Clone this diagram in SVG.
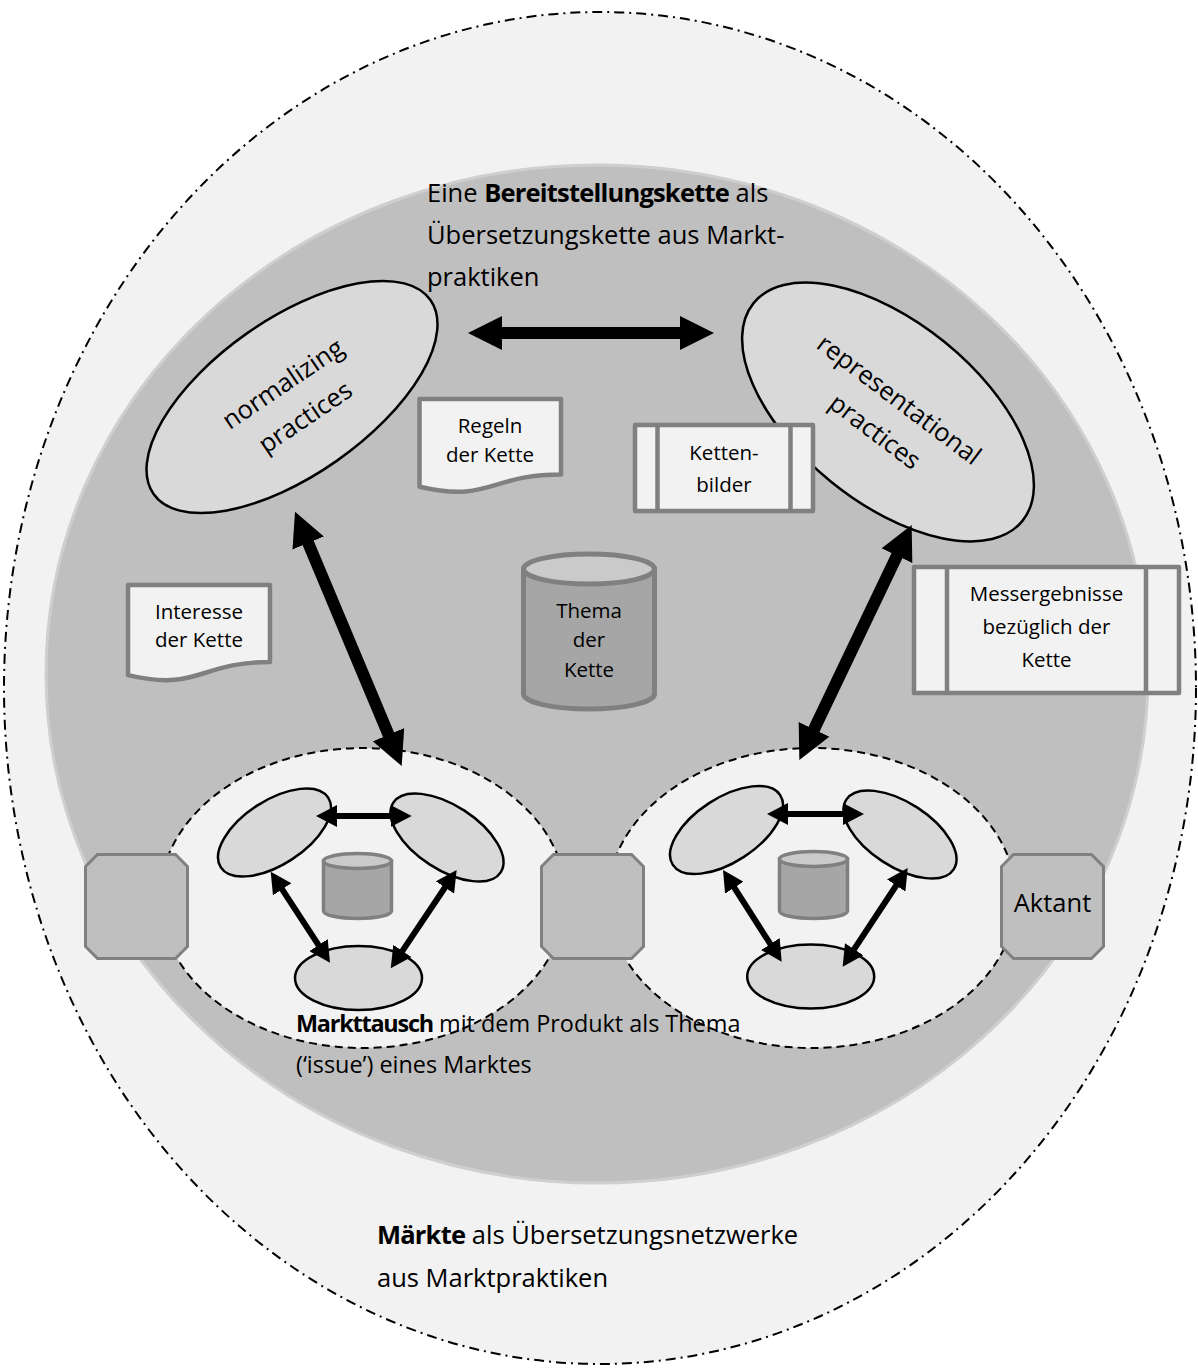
<svg xmlns="http://www.w3.org/2000/svg" width="1198" height="1369" viewBox="0 0 1198 1369">
<style>
.t{font-family:"Open Sans","Liberation Sans",sans-serif;fill:#000}
.main{font-size:25.5px}
.mid{font-size:23.4px}
.small{font-size:20.5px}
.b{font-weight:bold;letter-spacing:-0.8px}
.b2{font-weight:bold;letter-spacing:-1.2px}
.doc{fill:#f2f2f2;stroke:#808080;stroke-width:4.5;stroke-linejoin:round}
.bar{fill:none;stroke:#808080;stroke-width:4.5}
.prac{fill:#d9d9d9;stroke:#000;stroke-width:2.5}
.oct{fill:#bfbfbf;stroke:#808080;stroke-width:3}
.cylb{fill:#a6a6a6;stroke:#808080}
.cylt{fill:#cacaca;stroke:#808080}
.market{fill:#f2f2f2;stroke:#000;stroke-width:2;stroke-dasharray:8 5}
.big{fill:none;stroke:#000;stroke-width:12;marker-start:url(#hb);marker-end:url(#hb)}
.sm{fill:none;stroke:#000;stroke-width:6;marker-start:url(#hs);marker-end:url(#hs)}
</style>
<defs>
<marker id="hb" viewBox="0 0 34 34" refX="10" refY="17" markerWidth="34" markerHeight="34" markerUnits="userSpaceOnUse" orient="auto-start-reverse"><path d="M0,0 L34,17 L0,34 Z" fill="#000"/></marker>
<marker id="hs" viewBox="0 0 21 22" refX="6" refY="11" markerWidth="21" markerHeight="22" markerUnits="userSpaceOnUse" orient="auto-start-reverse"><path d="M0,0 L21,11 L0,22 Z" fill="#000"/></marker>
</defs>

<g id="maerkte">
<ellipse cx="600" cy="688" rx="596" ry="676" fill="#f2f2f2" stroke="#000" stroke-width="2" stroke-dasharray="10 5 2 5"/>
<text class="t main" x="377" y="1244"><tspan class="b">Märkte</tspan> als Übersetzungsnetzwerke</text>
<text class="t main" x="377" y="1287">aus Marktpraktiken</text>
</g>

<g id="bereitstellungskette">
<ellipse cx="597" cy="674" rx="551" ry="509" fill="#bfbfbf" stroke="#cfcfcf" stroke-width="3"/>
<text class="t main" x="427" y="202">Eine <tspan class="b">Bereitstellungskette</tspan> als</text>
<text class="t main" x="427" y="244">Übersetzungskette aus Markt-</text>
<text class="t main" x="427" y="286">praktiken</text>
</g>

<g id="markt-links">
<ellipse class="market" cx="363" cy="898" rx="203" ry="150"/>
</g>
<g id="markt-rechts">
<ellipse class="market" cx="812" cy="898" rx="204" ry="150"/>
</g>

<g id="aktant-links"><polygon class="oct" points="97.5,854.5 175.5,854.5 187.5,866.5 187.5,946.5 175.5,958.5 97.5,958.5 85.5,946.5 85.5,866.5"/></g>
<g id="aktant-mitte"><polygon class="oct" points="553.5,854.5 631.5,854.5 643.5,866.5 643.5,946.5 631.5,958.5 553.5,958.5 541.5,946.5 541.5,866.5"/></g>
<g id="aktant-rechts"><polygon class="oct" points="1013.5,854.5 1091.5,854.5 1103.5,866.5 1103.5,946.5 1091.5,958.5 1013.5,958.5 1001.5,946.5 1001.5,866.5"/>
<text class="t main" x="1052.5" y="912" text-anchor="middle">Aktant</text></g>

<g id="normalizing">
<ellipse class="prac" cx="292" cy="397" rx="169" ry="78" transform="rotate(-35 292 397)"/>
<g transform="translate(295,402) rotate(-34)">
<text class="t main" x="0" y="-13" text-anchor="middle">normalizing</text>
<text class="t main" x="0" y="27" text-anchor="middle">practices</text>
</g>
</g>

<g id="representational">
<ellipse class="prac" cx="888" cy="412" rx="173" ry="90" transform="rotate(39 888 412)"/>
<g transform="translate(886,417) rotate(37)">
<text class="t main" x="0" y="-13" text-anchor="middle">representational</text>
<text class="t main" x="0" y="27" text-anchor="middle">practices</text>
</g>
</g>

<g id="regeln">
<path class="doc" d="M419.5,399 H561 V474.4 C490.25,474.4 490.25,503.1 419.5,486.8 Z"/>
<text class="t small" x="490" y="433" text-anchor="middle">Regeln</text>
<text class="t small" x="490" y="462" text-anchor="middle">der Kette</text>
</g>

<g id="interesse">
<path class="doc" d="M128,585 H270 V662 C199,662 199,691.8 128,675.1 Z"/>
<text class="t small" x="199" y="619" text-anchor="middle">Interesse</text>
<text class="t small" x="199" y="647" text-anchor="middle">der Kette</text>
</g>

<g id="kettenbilder">
<rect class="doc" x="635" y="425" width="178" height="86"/>
<path class="bar" d="M657.5,425 V511 M790.5,425 V511"/>
<text class="t small" x="724" y="460" text-anchor="middle">Ketten-</text>
<text class="t small" x="724" y="492" text-anchor="middle">bilder</text>
</g>

<g id="messergebnisse">
<rect class="doc" x="914" y="567" width="265" height="126"/>
<path class="bar" d="M947,567 V693 M1146,567 V693"/>
<text class="t small" x="1046.5" y="601" text-anchor="middle">Messergebnisse</text>
<text class="t small" x="1046.5" y="634" text-anchor="middle">bezüglich der</text>
<text class="t small" x="1046.5" y="667" text-anchor="middle">Kette</text>
</g>

<g id="thema">
<path class="cylb" stroke-width="5" d="M523.5,569 V694 A65.5,15 0 0 0 654.5,694 V569 Z"/>
<ellipse class="cylt" stroke-width="5" cx="589" cy="569" rx="65.5" ry="15"/>
<text class="t small" x="589" y="618" text-anchor="middle">Thema</text>
<text class="t small" x="589" y="647" text-anchor="middle">der</text>
<text class="t small" x="589" y="677" text-anchor="middle">Kette</text>
</g>

<g id="l-oben-links"><ellipse class="prac" cx="274.5" cy="832.5" rx="64" ry="32" transform="rotate(-33 274.5 832.5)"/></g>
<g id="l-oben-rechts"><ellipse class="prac" cx="447" cy="837.5" rx="64" ry="32" transform="rotate(33 447 837.5)"/></g>
<g id="l-unten"><ellipse class="prac" cx="358.5" cy="978" rx="63.5" ry="32"/></g>
<g id="l-thema">
<path class="cylb" stroke-width="3.5" d="M323.5,861 V911 A34,7.5 0 0 0 391.5,911 V861 Z"/>
<ellipse class="cylt" stroke-width="3.5" cx="357.5" cy="861" rx="34" ry="7.5"/>
</g>

<g id="r-oben-links"><ellipse class="prac" cx="726.5" cy="830" rx="64" ry="32" transform="rotate(-33 726.5 830)"/></g>
<g id="r-oben-rechts"><ellipse class="prac" cx="900" cy="834.5" rx="64" ry="32" transform="rotate(33 900 834.5)"/></g>
<g id="r-unten"><ellipse class="prac" cx="810.7" cy="976.5" rx="63.5" ry="32"/></g>
<g id="r-thema">
<path class="cylb" stroke-width="3.5" d="M779.5,859 V911 A34,7.5 0 0 0 847.5,911 V859 Z"/>
<ellipse class="cylt" stroke-width="3.5" cx="813.5" cy="859" rx="34" ry="7.5"/>
</g>

<g id="connectors">
<line class="big" x1="492" y1="333" x2="690" y2="333"/>
<line class="big" x1="304.3" y1="533.8" x2="392.4" y2="743.9"/>
<line class="big" x1="901.3" y1="546.7" x2="809.7" y2="738.4"/>
<line class="sm" x1="331" y1="816" x2="396.7" y2="816"/>
<line class="sm" x1="278.9" y1="884.3" x2="321.8" y2="950.1"/>
<line class="sm" x1="448.3" y1="882.5" x2="399.1" y2="955.9"/>
<line class="sm" x1="782" y1="814" x2="849" y2="814"/>
<line class="sm" x1="731.1" y1="882.6" x2="773.6" y2="949.1"/>
<line class="sm" x1="899.5" y1="880.5" x2="850.9" y2="954.2"/>
</g>

<g id="markttausch-label">
<text class="t mid" x="296" y="1032"><tspan class="b2">Markttausch</tspan> mit dem Produkt als Thema</text>
<text class="t mid" x="296" y="1073">(&#8216;issue&#8217;) eines Marktes</text>
</g>
</svg>
